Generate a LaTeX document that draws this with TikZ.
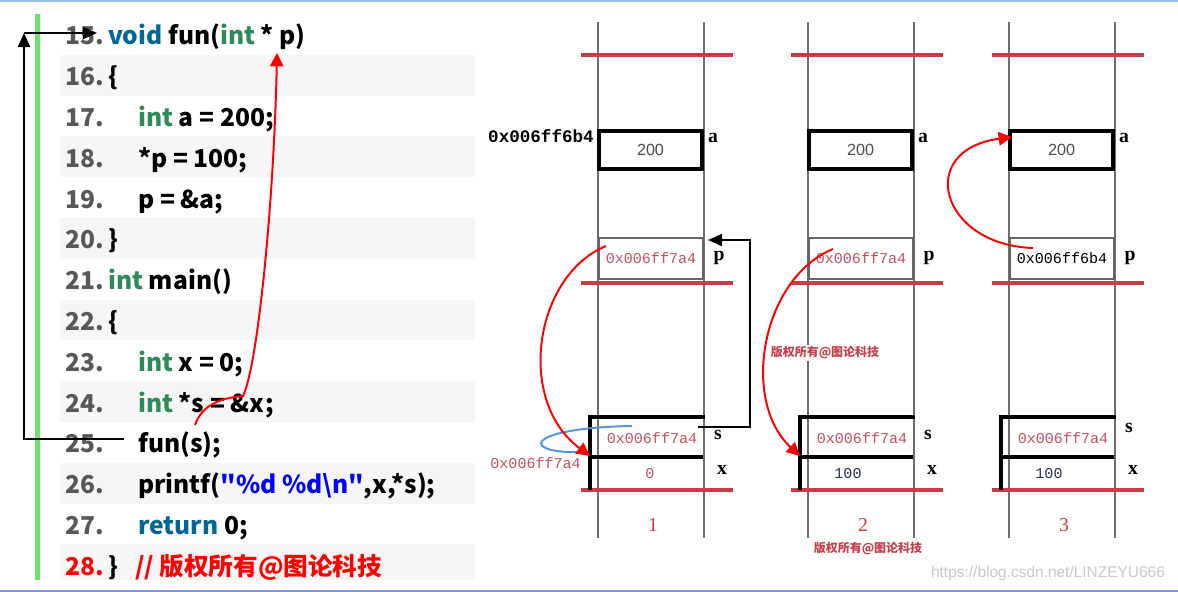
\documentclass[tikz,border=0pt]{standalone}
\usepackage{fontspec}
\setmainfont{Liberation Serif}
\newfontfamily\codefont{Noto Sans CJK SC}
\newfontfamily\cjk{Noto Sans CJK SC}
\newfontfamily\addrfont{Liberation Mono}
\newfontfamily\wmfont{Liberation Sans}
\usetikzlibrary{arrows.meta}
\definecolor{kwblue}{RGB}{0,102,153}
\definecolor{kwgreen}{RGB}{46,139,87}
\definecolor{numgray}{RGB}{88,88,88}
\definecolor{bandgray}{RGB}{246,246,246}
\definecolor{bargreen}{RGB}{108,224,113}
\definecolor{strblue}{RGB}{0,0,255}
\definecolor{stackred}{RGB}{200,60,72}
\definecolor{addrred}{RGB}{192,82,98}
\definecolor{valblue}{RGB}{40,50,80}
\definecolor{loopblue}{RGB}{80,150,220}
\definecolor{lanegray}{RGB}{110,110,110}
\definecolor{edgeblue}{RGB}{150,190,230}
\newcommand\codesize{\fontsize{17.5}{21}\selectfont}

\begin{document}
\begin{tikzpicture}[x=0.025cm,y=-0.025cm,
  num/.style={anchor=base west,inner sep=0,font=\codefont\bfseries\codesize,text=numgray},
  code/.style={anchor=base west,inner sep=0,font=\codefont\bfseries\codesize},
  lane/.style={lanegray,line width=0.8pt},
  bound/.style={stackred,line width=2.2pt},
  cell/.style={line width=2.2pt},
  abox/.style={draw,line width=2.5pt,fill=white,minimum width=2.575cm,minimum height=0.95cm,
    inner sep=0,font=\wmfont\fontsize{11.5}{13}\selectfont,text=black!70},
  pbox/.style={draw=black!60,line width=0.9pt,fill=white,minimum width=2.6cm,minimum height=1.025cm,
    inner sep=0,font=\addrfont\fontsize{10.7}{13}\selectfont},
  addr/.style={inner sep=0,font=\addrfont\fontsize{10.7}{13}\selectfont},
  lbl/.style={inner sep=0,font=\bfseries\fontsize{14}{16}\selectfont},
  stepno/.style={inner sep=0,text=stackred,font=\fontsize{14}{16}\selectfont},
  wmark/.style={inner sep=1pt,fill=white,text=stackred,font=\cjk\bfseries\fontsize{8.5}{10}\selectfont},
  ptr/.style={line width=1.4pt,-{Triangle[length=10pt,width=8.5pt]}},
  redarr/.style={red,line width=1.4pt,-{Triangle[length=9.5pt,width=9.5pt]}}]
\useasboundingbox (0,0) rectangle (1178,592);
\fill[white] (0,0) rectangle (1178,592);
\draw[edgeblue,line width=1.2pt] (0,1) -- (1178,1);
\draw[edgeblue!80!blue,line width=1.2pt] (0,591) -- (1178,591);

% code listing
\foreach \k in {1,3,...,13}
  \fill[bandgray] (60,{14+\k*40.8}) rectangle (475,{min(14+(\k+1)*40.8,580)});
\fill[bargreen] (35,14) rectangle (40,580);

\node[num] (n15) at (65,44.9) {15.};
\node[code] (c15) at (108,44.9) {\textcolor{kwblue}{void} fun(\textcolor{kwgreen}{int} * p)};
\node[num] (n16) at (65,85.7) {16.};
\node[code] (c16) at (108,85.7) {\{};
\node[num] (n17) at (65,126.5) {17.};
\node[code] (c17) at (138,126.5) {\textcolor{kwgreen}{int} a = 200;};
\node[num] (n18) at (65,167.3) {18.};
\node[code] (c18) at (138,167.3) {*p = 100;};
\node[num] (n19) at (65,208.1) {19.};
\node[code] (c19) at (138,208.1) {p = \&a;};
\node[num] (n20) at (65,248.9) {20.};
\node[code] (c20) at (108,248.9) {\}};
\node[num] (n21) at (65,289.7) {21.};
\node[code] (c21) at (108,289.7) {\textcolor{kwgreen}{int} main()};
\node[num] (n22) at (65,330.5) {22.};
\node[code] (c22) at (108,330.5) {\{};
\node[num] (n23) at (65,371.3) {23.};
\node[code] (c23) at (138,371.3) {\textcolor{kwgreen}{int} x = 0;};
\node[num] (n24) at (65,412.1) {24.};
\node[code] (c24) at (138,412.1) {\textcolor{kwgreen}{int} *s = \&x;};
\node[num] (n25) at (65,452.9) {25.};
\node[code] (c25) at (138,452.9) {fun(s);};
\node[num] (n26) at (65,493.7) {26.};
\node[code] (c26) at (138,493.7) {printf(\textcolor{strblue}{"\%d \%d\textbackslash n"},x,*s);};
\node[num] (n27) at (65,534.5) {27.};
\node[code] (c27) at (138,534.5) {\textcolor{kwblue}{return} 0;};
\node[num,text=red] (n28) at (65,575.3) {28.};
\node[code] (c28) at (108,575.3) {\} \ \ \textcolor{red}{// 版权所有@图论科技}};

% call and jump back
\coordinate (callpt) at (124,439);
\coordinate (corner) at (24,33);
\coordinate (entry) at (97,33);
\draw[ptr] (callpt) -| (corner);
\draw[ptr] (corner) -- (entry);
\coordinate (sarg) at (195,425);
\coordinate (pparam) at (277,53);
\draw[redarr] (sarg) .. controls (202,405) and (220,398) .. (243,396)
  .. controls (258,365) and (274,200) .. (pparam);

% three stack frames
\foreach \L/\k/\pv/\pc/\xv/\xc/\xo/\so in
  {598/1/0x006ff7a4/addrred/0/addrred/52/0,
   808/2/0x006ff7a4/addrred/100/valblue/40/0,
   1009/3/0x006ff6b4/black/100/valblue/40/-7}{
  \draw[lane] (\L,22) -- (\L,538);
  \draw[lane] (\L+106,22) -- (\L+106,538);
  \foreach \y in {55,283,490}
    \draw[bound] (\L-17,\y) -- (\L+135,\y);
  \node[abox] (a\k) at (\L+52.5,150) {200};
  \node[lbl] (al\k) at (\L+115,138) {a};
  \node[pbox,text=\pc] (p\k) at (\L+53,258.5) {\pv};
  \node[lbl] (pl\k) at (\L+121,258) {p};
  \draw[cell] (\L-8,490) -- (\L-8,417) -- (\L+107,417);
  \draw[cell] (\L-8,457) -- (\L+105,457);
  \node[addr,text=addrred] (s\k) at (\L+54,438) {0x006ff7a4};
  \node[addr,text=\xc] (x\k) at (\L+\xo,474) {\xv};
  \node[lbl] (sl\k) at (\L+120,435+\so) {s};
  \node[lbl] (xl\k) at (\L+124,470) {x};
  \node[stepno] (no\k) at (\L+55,525) {\k};
  \coordinate (j\k) at (\L-8,456);
}
\node[addr,anchor=east,font=\addrfont\bfseries\fontsize{12.5}{15}\selectfont] (aaddr) at (594,136) {0x006ff6b4};
\node[addr,anchor=east,text=addrred] (saddr) at (581,463) {0x006ff7a4};
\node[wmark] (wm1) at (825,353) {版权所有@图论科技};
\node[wmark] (wm2) at (868,549) {版权所有@图论科技};

% pointers
\coordinate (sout) at (698,427);
\coordinate (pin) at (708,240);
\draw[ptr] (sout) -- (750,427) -- (750,240) -- (pin);
\draw[loopblue,line width=1.4pt] (632,426) .. controls (520,428) and (520,455) .. (586,452);
\coordinate (from1) at (606,246);
\coordinate (from2) at (833,249);
\coordinate (from3) at (1033,248);
\coordinate (ain3) at (1012,137);
\draw[redarr] (from1) .. controls (535,275) and (515,400) .. (j1);
\draw[redarr] (from2) .. controls (762,278) and (740,400) .. (j2);
\draw[redarr] (from3) .. controls (940,245) and (915,150) .. (ain3);

\node[font=\wmfont\fontsize{11}{13}\selectfont,text=black!22] (csdn) at (1048,573) {https://blog.csdn.net/LINZEYU666};
\end{tikzpicture}
\end{document}
